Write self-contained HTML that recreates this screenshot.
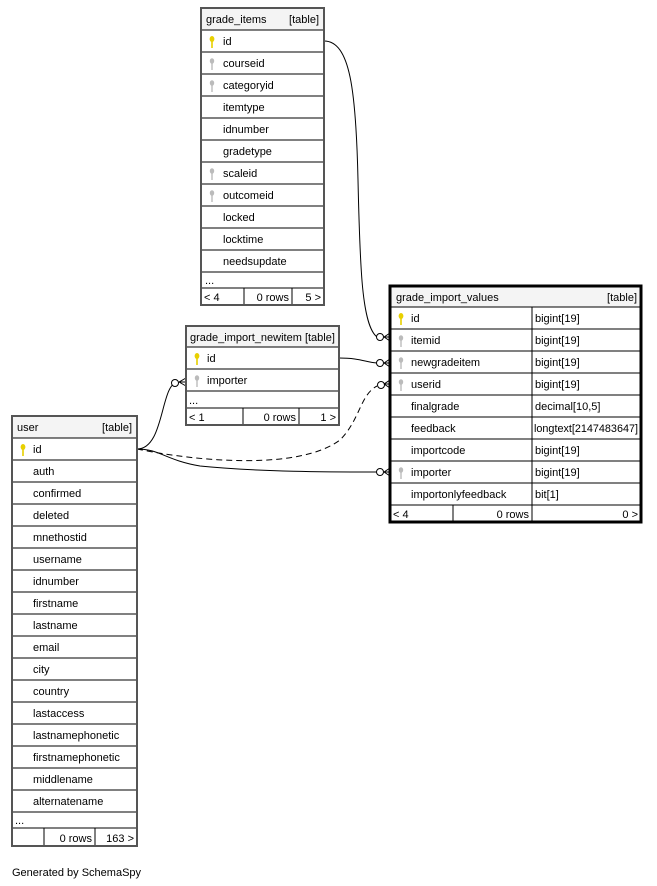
<!DOCTYPE html>
<html><head><meta charset="utf-8"><style>
html,body{margin:0;padding:0;background:#fff;}
svg{display:block;font-family:"Liberation Sans",Arial,sans-serif;font-size:11px;}
.h{fill:#f4f4f4;}
.ln{stroke:#000;stroke-width:1;fill:none;}
.bd{stroke:#555;stroke-width:2;fill:none;}
</style></head><body>
<svg width="657" height="886" viewBox="0 0 657 886">
<defs>
<g id="pk"><ellipse cx="0" cy="-3" rx="2.4" ry="3" fill="#e8d000"/><rect x="-0.8" y="-1" width="1.6" height="7" fill="#e8d000"/></g>
<g id="fk"><ellipse cx="0" cy="-3" rx="2.2" ry="2.8" fill="#bbb"/><rect x="-0.7" y="-1" width="1.4" height="7" fill="#bbb"/></g>
</defs>

<!-- connectors -->
<path class="ln" d="M324,41 C350,41 356,90 358,180 C360,270 362,325 377,337"/>
<path class="ln" d="M339,358 C360,358 365,362 377,363"/>
<path class="ln" stroke-dasharray="6,4" d="M137,449 C200,462 300,470 340,440 C360,420 360,395 377,386"/>
<path class="ln" d="M137,449 C160,449 165,460 200,466 C260,472 330,472 377,472"/>
<path class="ln" d="M137,449 C165,449 160,383 178,382"/>
<g fill="#fff" stroke="#000">
<circle cx="380" cy="337" r="3.5"/><circle cx="380" cy="363" r="3.5"/><circle cx="381" cy="385" r="3.5"/><circle cx="380" cy="472" r="3.5"/><circle cx="175" cy="383" r="3.5"/>
</g>
<g stroke="#000" fill="none">
<path d="M384,337 L390,333 M384,337 L390,341 M384,337 L390,337"/>
<path d="M384,363 L390,359 M384,363 L390,367 M384,363 L390,363"/>
<path d="M384,384 L390,380 M384,384 L390,388 M384,384 L390,384"/>
<path d="M384,472 L390,468 M384,472 L390,476 M384,472 L390,472"/>
<path d="M179,382 L186,378 M179,382 L186,386 M179,382 L186,382"/>
</g>

<!-- grade_items -->
<rect class="h" x="201" y="8" width="123" height="22"/>
<g class="ln">
<line x1="201" y1="30" x2="324" y2="30"/><line x1="201" y1="52" x2="324" y2="52"/><line x1="201" y1="74" x2="324" y2="74"/><line x1="201" y1="96" x2="324" y2="96"/><line x1="201" y1="118" x2="324" y2="118"/><line x1="201" y1="140" x2="324" y2="140"/><line x1="201" y1="162" x2="324" y2="162"/><line x1="201" y1="184" x2="324" y2="184"/><line x1="201" y1="206" x2="324" y2="206"/><line x1="201" y1="228" x2="324" y2="228"/><line x1="201" y1="250" x2="324" y2="250"/><line x1="201" y1="272" x2="324" y2="272"/><line x1="201" y1="288" x2="324" y2="288"/>
<line x1="244" y1="288" x2="244" y2="305"/><line x1="292" y1="288" x2="292" y2="305"/>
</g>
<rect class="bd" x="201" y="8" width="123" height="297"/>
<text x="206" y="23">grade_items</text><text x="319" y="23" text-anchor="end">[table]</text>
<use href="#pk" x="212" y="42"/><use href="#fk" x="212" y="64"/><use href="#fk" x="212" y="86"/><use href="#fk" x="212" y="174"/><use href="#fk" x="212" y="196"/>
<text x="223" y="45">id</text><text x="223" y="67">courseid</text><text x="223" y="89">categoryid</text><text x="223" y="111">itemtype</text><text x="223" y="133">idnumber</text><text x="223" y="155">gradetype</text><text x="223" y="177">scaleid</text><text x="223" y="199">outcomeid</text><text x="223" y="221">locked</text><text x="223" y="243">locktime</text><text x="223" y="265">needsupdate</text>
<text x="205" y="284">...</text>
<text x="204" y="301">&lt; 4</text><text x="289" y="301" text-anchor="end">0 rows</text><text x="321" y="301" text-anchor="end">5 &gt;</text>

<!-- grade_import_newitem -->
<rect class="h" x="186" y="326" width="153" height="21"/>
<g class="ln">
<line x1="186" y1="347" x2="339" y2="347"/><line x1="186" y1="369" x2="339" y2="369"/><line x1="186" y1="391" x2="339" y2="391"/><line x1="186" y1="408" x2="339" y2="408"/>
<line x1="243" y1="408" x2="243" y2="425"/><line x1="299" y1="408" x2="299" y2="425"/>
</g>
<rect class="bd" x="186" y="326" width="153" height="99"/>
<text x="190" y="341">grade_import_newitem [table]</text>
<use href="#pk" x="197" y="359"/><use href="#fk" x="197" y="381"/>
<text x="207" y="362">id</text><text x="207" y="384">importer</text>
<text x="189" y="404">...</text>
<text x="189" y="421">&lt; 1</text><text x="296" y="421" text-anchor="end">0 rows</text><text x="336" y="421" text-anchor="end">1 &gt;</text>

<!-- grade_import_values -->
<rect class="h" x="390" y="286" width="251" height="21"/>
<g class="ln">
<line x1="390" y1="307" x2="641" y2="307"/><line x1="390" y1="329" x2="641" y2="329"/><line x1="390" y1="351" x2="641" y2="351"/><line x1="390" y1="373" x2="641" y2="373"/><line x1="390" y1="395" x2="641" y2="395"/><line x1="390" y1="417" x2="641" y2="417"/><line x1="390" y1="439" x2="641" y2="439"/><line x1="390" y1="461" x2="641" y2="461"/><line x1="390" y1="483" x2="641" y2="483"/><line x1="390" y1="505" x2="641" y2="505"/>
<line x1="532" y1="307" x2="532" y2="522"/><line x1="453" y1="505" x2="453" y2="522"/>
</g>
<rect x="390" y="286" width="251" height="236" fill="none" stroke="#000" stroke-width="3"/>
<text x="396" y="301">grade_import_values</text><text x="637" y="301" text-anchor="end">[table]</text>
<use href="#pk" x="401" y="319"/><use href="#fk" x="401" y="341"/><use href="#fk" x="401" y="363"/><use href="#fk" x="401" y="385"/><use href="#fk" x="401" y="473"/>
<text x="411" y="322">id</text><text x="411" y="344">itemid</text><text x="411" y="366">newgradeitem</text><text x="411" y="388">userid</text><text x="411" y="410">finalgrade</text><text x="411" y="432">feedback</text><text x="411" y="454">importcode</text><text x="411" y="476">importer</text><text x="411" y="498">importonlyfeedback</text>
<text x="535" y="322">bigint[19]</text><text x="535" y="344">bigint[19]</text><text x="535" y="366">bigint[19]</text><text x="535" y="388">bigint[19]</text><text x="535" y="410">decimal[10,5]</text><text x="534" y="432" textLength="104" lengthAdjust="spacingAndGlyphs">longtext[2147483647]</text><text x="535" y="454">bigint[19]</text><text x="535" y="476">bigint[19]</text><text x="535" y="498">bit[1]</text>
<text x="393" y="518">&lt; 4</text><text x="529" y="518" text-anchor="end">0 rows</text><text x="638" y="518" text-anchor="end">0 &gt;</text>

<!-- user -->
<rect class="h" x="12" y="416" width="125" height="22"/>
<g class="ln">
<line x1="12" y1="438" x2="137" y2="438"/><line x1="12" y1="460" x2="137" y2="460"/><line x1="12" y1="482" x2="137" y2="482"/><line x1="12" y1="504" x2="137" y2="504"/><line x1="12" y1="526" x2="137" y2="526"/><line x1="12" y1="548" x2="137" y2="548"/><line x1="12" y1="570" x2="137" y2="570"/><line x1="12" y1="592" x2="137" y2="592"/><line x1="12" y1="614" x2="137" y2="614"/><line x1="12" y1="636" x2="137" y2="636"/><line x1="12" y1="658" x2="137" y2="658"/><line x1="12" y1="680" x2="137" y2="680"/><line x1="12" y1="702" x2="137" y2="702"/><line x1="12" y1="724" x2="137" y2="724"/><line x1="12" y1="746" x2="137" y2="746"/><line x1="12" y1="768" x2="137" y2="768"/><line x1="12" y1="790" x2="137" y2="790"/><line x1="12" y1="812" x2="137" y2="812"/><line x1="12" y1="828" x2="137" y2="828"/>
<line x1="44" y1="828" x2="44" y2="846"/><line x1="95" y1="828" x2="95" y2="846"/>
</g>
<rect class="bd" x="12" y="416" width="125" height="430"/>
<text x="17" y="431">user</text><text x="132" y="431" text-anchor="end">[table]</text>
<use href="#pk" x="23" y="450"/>
<text x="33" y="453">id</text><text x="33" y="475">auth</text><text x="33" y="497">confirmed</text><text x="33" y="519">deleted</text><text x="33" y="541">mnethostid</text><text x="33" y="563">username</text><text x="33" y="585">idnumber</text><text x="33" y="607">firstname</text><text x="33" y="629">lastname</text><text x="33" y="651">email</text><text x="33" y="673">city</text><text x="33" y="695">country</text><text x="33" y="717">lastaccess</text><text x="33" y="739">lastnamephonetic</text><text x="33" y="761">firstnamephonetic</text><text x="33" y="783">middlename</text><text x="33" y="805">alternatename</text>
<text x="15" y="824">...</text>
<text x="92" y="842" text-anchor="end">0 rows</text><text x="134" y="842" text-anchor="end">163 &gt;</text>

<text x="12" y="876">Generated by SchemaSpy</text>
</svg>
</body></html>
